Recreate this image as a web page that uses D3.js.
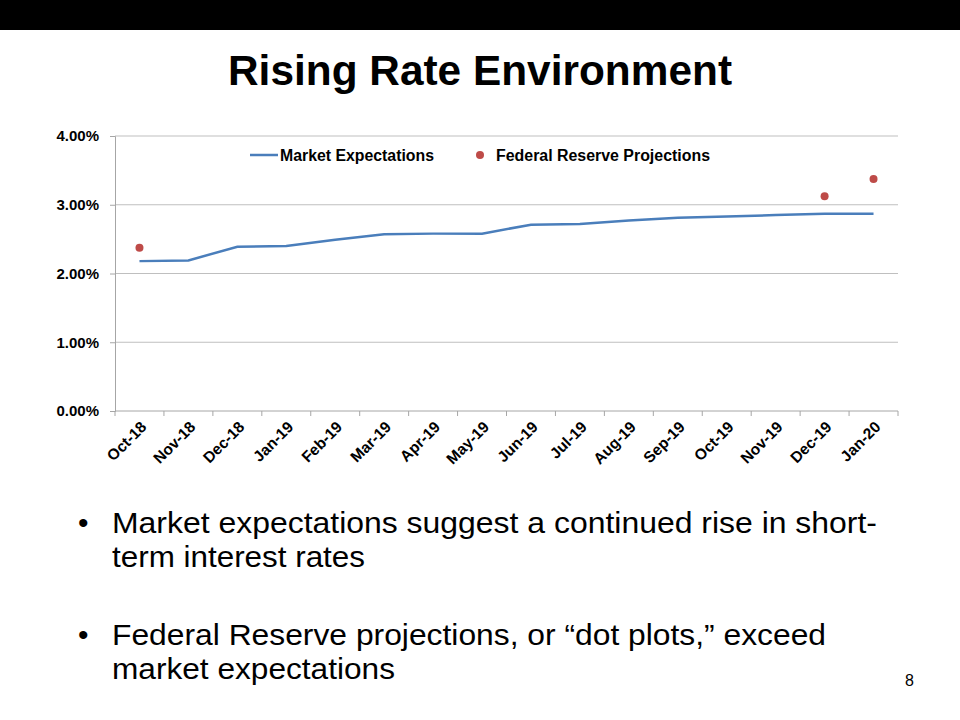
<!DOCTYPE html>
<html><head><meta charset="utf-8">
<script src="https://cdn.jsdelivr.net/npm/d3@7"></script>
<style>body{margin:0;background:#fff;font-family:"Liberation Sans",Arial,sans-serif;}</style>
</head><body>
<svg id="c" width="960" height="720"></svg>
<script>
const categories = ["Oct-18","Nov-18","Dec-18","Jan-19","Feb-19","Mar-19","Apr-19","May-19","Jun-19","Jul-19","Aug-19","Sep-19","Oct-19","Nov-19","Dec-19","Jan-20"];
const marketExpectations = [2.18,2.19,2.39,2.40,2.49,2.57,2.58,2.58,2.71,2.72,2.77,2.81,2.83,2.85,2.87,2.87];
const fedProjections = [2.375,null,null,null,null,null,null,null,null,null,null,null,null,null,3.125,3.375];
const yTicks = [0,1,2,3,4];

const svg = d3.select("#c");
svg.append("rect").attr("x",0).attr("y",0).attr("width",960).attr("height",30).attr("fill","#000");
svg.append("text").attr("x",228).attr("y",85)
  .attr("font-size",42).attr("font-weight","bold").attr("fill","#000")
  .attr("textLength",504).attr("lengthAdjust","spacingAndGlyphs").text("Rising Rate Environment");

const L=115,R=898,T=136,B=411;
const x = d3.scaleBand().domain(categories).range([L,R]);
const y = d3.scaleLinear().domain([0,4]).range([B,T]);

// gridlines
svg.append("g").selectAll("line").data(yTicks.slice(1)).join("line")
  .attr("x1",L).attr("x2",R).attr("y1",d=>y(d)).attr("y2",d=>y(d))
  .attr("stroke","#bfbfbf").attr("stroke-width",1.2);

// y axis
const ya = svg.append("g").attr("transform",`translate(${L},0)`)
  .call(d3.axisLeft(y).tickValues(yTicks).tickFormat(d=>d.toFixed(2)+"%").tickSize(5).tickPadding(11));
ya.select(".domain").attr("stroke","#a6a6a6");
ya.selectAll(".tick line").attr("stroke","#a6a6a6");
ya.selectAll("text").attr("font-size",15).attr("font-weight","bold").attr("fill","#000")
  .attr("font-family","Liberation Sans, Arial, sans-serif");

// x axis: ticks at band boundaries
const xa = svg.append("g").attr("transform",`translate(0,${B})`);
xa.append("line").attr("x1",L).attr("x2",R).attr("stroke","#a6a6a6");
const bounds = categories.map(c=>x(c)).concat([R]);
xa.selectAll("line.t").data(bounds).join("line").attr("class","t")
  .attr("x1",d=>d).attr("x2",d=>d).attr("y1",0).attr("y2",5).attr("stroke","#a6a6a6");
xa.selectAll("text").data(categories).join("text")
  .attr("transform",d=>`translate(${x(d)+x.bandwidth()/2+8},${17}) rotate(-45)`)
  .attr("text-anchor","end").attr("font-size",15.5).attr("font-weight","bold").attr("fill","#000")
  .text(d=>d);

// line
const line = d3.line().x((d,i)=>x(categories[i])+x.bandwidth()/2).y(d=>y(d));
svg.append("path").datum(marketExpectations).attr("d",line)
  .attr("fill","none").attr("stroke","#4a7ebb").attr("stroke-width",2.5);

// dots
svg.append("g").selectAll("circle").data(fedProjections.map((v,i)=>({v,c:categories[i]})).filter(d=>d.v!=null))
  .join("circle").attr("cx",d=>x(d.c)+x.bandwidth()/2).attr("cy",d=>y(d.v)).attr("r",4).attr("fill","#be4b48");

// legend
const lg = svg.append("g");
lg.append("line").attr("x1",250).attr("x2",278).attr("y1",155).attr("y2",155).attr("stroke","#4a7ebb").attr("stroke-width",2.5);
lg.append("text").attr("x",280).attr("y",161).attr("font-size",16).attr("font-weight","bold")
  .attr("textLength",154).attr("lengthAdjust","spacingAndGlyphs").text("Market Expectations");
lg.append("circle").attr("cx",480).attr("cy",155).attr("r",4).attr("fill","#be4b48");
lg.append("text").attr("x",496).attr("y",161).attr("font-size",16).attr("font-weight","bold")
  .attr("textLength",214).attr("lengthAdjust","spacingAndGlyphs").text("Federal Reserve Projections");

// bullets
const bullets = [
  {y:533, lines:["Market expectations suggest a continued rise in short-","term interest rates"], w:[765,253]},
  {y:645, lines:["Federal Reserve projections, or \u201cdot plots,\u201d exceed","market expectations"], w:[714,283]}
];
bullets.forEach(b=>{
  svg.append("text").attr("x",78).attr("y",b.y).attr("font-size",30).text("\u2022");
  b.lines.forEach((t,i)=>svg.append("text").attr("x",112).attr("y",b.y+i*34).attr("font-size",30).attr("fill","#000")
    .attr("textLength",b.w[i]).attr("lengthAdjust","spacingAndGlyphs").text(t));
});
svg.append("text").attr("x",914).attr("y",686).attr("text-anchor","end").attr("font-size",16).text("8");
</script>
</body></html>
